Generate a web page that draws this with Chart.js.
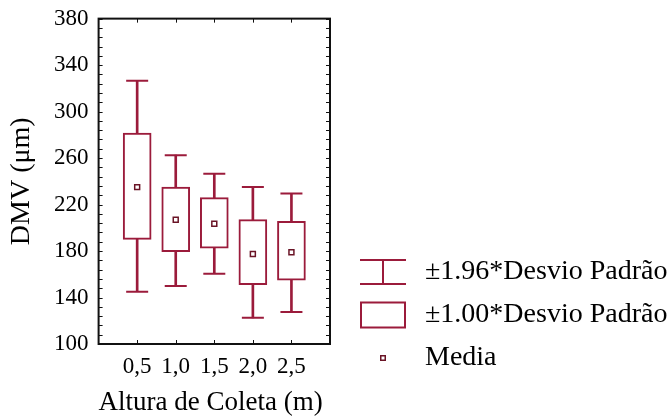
<!DOCTYPE html>
<html>
<head>
<meta charset="utf-8">
<script src="https://cdn.jsdelivr.net/npm/chart.js@4/dist/chart.umd.min.js"></script>
<style>
    html, body { margin: 0; padding: 0; background: #fff; }
    #wrap { width: 672px; height: 418px; }
</style>
</head>
<body>
<div id="wrap"><canvas id="chart" width="672" height="418"></canvas></div>
<script>
// alturas de coleta (m) e rotulos do eixo x
const alturas = [0.5, 1.0, 1.5, 2.0, 2.5];
const rotulosX = ["0,5", "1,0", "1,5", "2,0", "2,5"];
// DMV (um)
const media = [235, 207, 203.5, 177.5, 179];
const caixaInf = [190, 179.5, 182.5, 151, 155];
const caixaSup = [281.5, 235, 226, 207, 205.5];
const bigodeInf = [145, 150, 160.5, 122.5, 127.5];
const bigodeSup = [326.5, 262.5, 246.5, 235, 229.5];
const ticksY = [100, 140, 180, 220, 260, 300, 340, 380];

const cor = "#9b1b3b";
const fonte = "'Liberation Serif', 'Times New Roman', serif";

// simbolos da legenda
function simbolo(w, h, desenho) {
    const c = document.createElement("canvas");
    c.width = w;
    c.height = h;
    const ctx = c.getContext("2d");
    ctx.strokeStyle = cor;
    ctx.lineWidth = 2;
    desenho(ctx);
    return c;
}
const simBigode = simbolo(56, 28, ctx => {
    ctx.beginPath();
    ctx.moveTo(10, 2); ctx.lineTo(56, 2);
    ctx.moveTo(10, 26); ctx.lineTo(56, 26);
    ctx.moveTo(33, 2); ctx.lineTo(33, 26);
    ctx.stroke();
});
const simCaixa = simbolo(56, 28, ctx => {
    ctx.strokeRect(11, 1.5, 44, 25);
});
const simMedia = simbolo(56, 8, ctx => {
    ctx.lineWidth = 1.5;
    ctx.strokeStyle = "#6a1426";
    ctx.strokeRect(30.75, 1.75, 4.5, 4.5);
});

// moldura com marcas internas
const moldura = {
    id: "moldura",
    afterLayout(chart) {
        // legenda desce abaixo da base do grafico, como no original
        chart.legend.top += 43;
        chart.legend.bottom += 43;
    },
    beforeDatasetsDraw(chart) {
        const { ctx, chartArea: a, scales: { x, y } } = chart;
        ctx.save();
        ctx.strokeStyle = "#111";
        ctx.lineWidth = 1;
        ctx.beginPath();
        for (let v = 100; v <= 380; v += 8) {
            const py = Math.round(y.getPixelForValue(v)) + 0.5;
            ctx.moveTo(a.left, py); ctx.lineTo(a.left + 4, py);
            ctx.moveTo(a.right, py); ctx.lineTo(a.right - 4, py);
        }
        for (const v of alturas) {
            const px = Math.round(x.getPixelForValue(v)) + 0.5;
            ctx.moveTo(px, a.bottom); ctx.lineTo(px, a.bottom - 4);
            ctx.moveTo(px, a.top); ctx.lineTo(px, a.top + 4);
        }
        ctx.stroke();
        ctx.lineWidth = 2;
        ctx.strokeRect(a.left, a.top, a.right - a.left, a.bottom - a.top);
        ctx.restore();
    }
};

new Chart(document.getElementById("chart"), {
    type: "bar",
    data: {
        datasets: [
            {
                type: "bar",
                label: "haste",
                data: alturas.map((x, i) => ({ x, y: [bigodeInf[i], bigodeSup[i]] })),
                backgroundColor: cor,
                borderWidth: 0,
                barThickness: 2,
                grouped: false,
                order: 3
            },
            {
                type: "scatter",
                label: "extremos",
                data: alturas.map((x, i) => ({ x, y: bigodeInf[i] }))
                    .concat(alturas.map((x, i) => ({ x, y: bigodeSup[i] }))),
                pointStyle: "line",
                radius: 11,
                borderColor: cor,
                borderWidth: 2,
                order: 2
            },
            {
                type: "bar",
                label: "caixa",
                data: alturas.map((x, i) => ({ x, y: [caixaInf[i], caixaSup[i]] })),
                backgroundColor: "#fff",
                borderColor: cor,
                borderWidth: 2,
                borderSkipped: false,
                barThickness: 28,
                grouped: false,
                order: 1
            },
            {
                type: "scatter",
                label: "Media",
                data: alturas.map((x, i) => ({ x, y: media[i] })),
                pointStyle: "rect",
                radius: 3.5,
                backgroundColor: "#fff",
                borderColor: "#6a1426",
                borderWidth: 1.5,
                order: 0
            }
        ]
    },
    options: {
        responsive: false,
        animation: false,
        events: [],
        layout: { autoPadding: false, padding: { left: 1, top: 14, right: 0, bottom: 2 } },
        scales: {
            x: {
                type: "linear",
                min: 0,
                max: 3,
                offset: false,
                grid: { display: false, drawTicks: false },
                border: { display: false },
                afterBuildTicks: scale => { scale.ticks = alturas.map(v => ({ value: v })); },
                ticks: {
                    autoSkip: false,
                    maxRotation: 0,
                    padding: 11,
                    color: "#000",
                    font: { family: fonte, size: 23, lineHeight: 1 },
                    callback: (v, i) => rotulosX[i]
                },
                title: {
                    display: true,
                    align: "start",
                    text: "Altura de Coleta (m)",
                    color: "#000",
                    font: { family: fonte, size: 27, lineHeight: 1 },
                    padding: { top: 0, bottom: 0 }
                }
            },
            y: {
                min: 100,
                max: 380,
                grid: { display: false, drawTicks: false },
                border: { display: false },
                afterBuildTicks: scale => { scale.ticks = ticksY.map(v => ({ value: v })); },
                ticks: {
                    padding: 10,
                    color: "#000",
                    font: { family: fonte, size: 23, lineHeight: 0.75 }
                },
                title: {
                    display: true,
                    text: "DMV (μm)",
                    color: "#000",
                    font: { family: fonte, size: 28 },
                    padding: { top: 4, bottom: 5.5 }
                }
            }
        },
        plugins: {
            tooltip: { enabled: false },
            legend: {
                position: "right",
                align: "end",
                fullSize: false,
                maxWidth: 342,
                labels: {
                    usePointStyle: true,
                    pointStyleWidth: 66,
                    padding: 15,
                    color: "#000",
                    font: { family: fonte, size: 28 },
                    generateLabels: () => [
                        { text: "±1.96*Desvio Padrão", pointStyle: simBigode, fillStyle: cor, strokeStyle: cor, lineWidth: 0, hidden: false },
                        { text: "±1.00*Desvio Padrão", pointStyle: simCaixa, fillStyle: cor, strokeStyle: cor, lineWidth: 0, hidden: false },
                        { text: "Media", pointStyle: simMedia, fillStyle: cor, strokeStyle: cor, lineWidth: 0, hidden: false }
                    ]
                }
            }
        }
    },
    plugins: [moldura]
});
</script>
</body>
</html>
